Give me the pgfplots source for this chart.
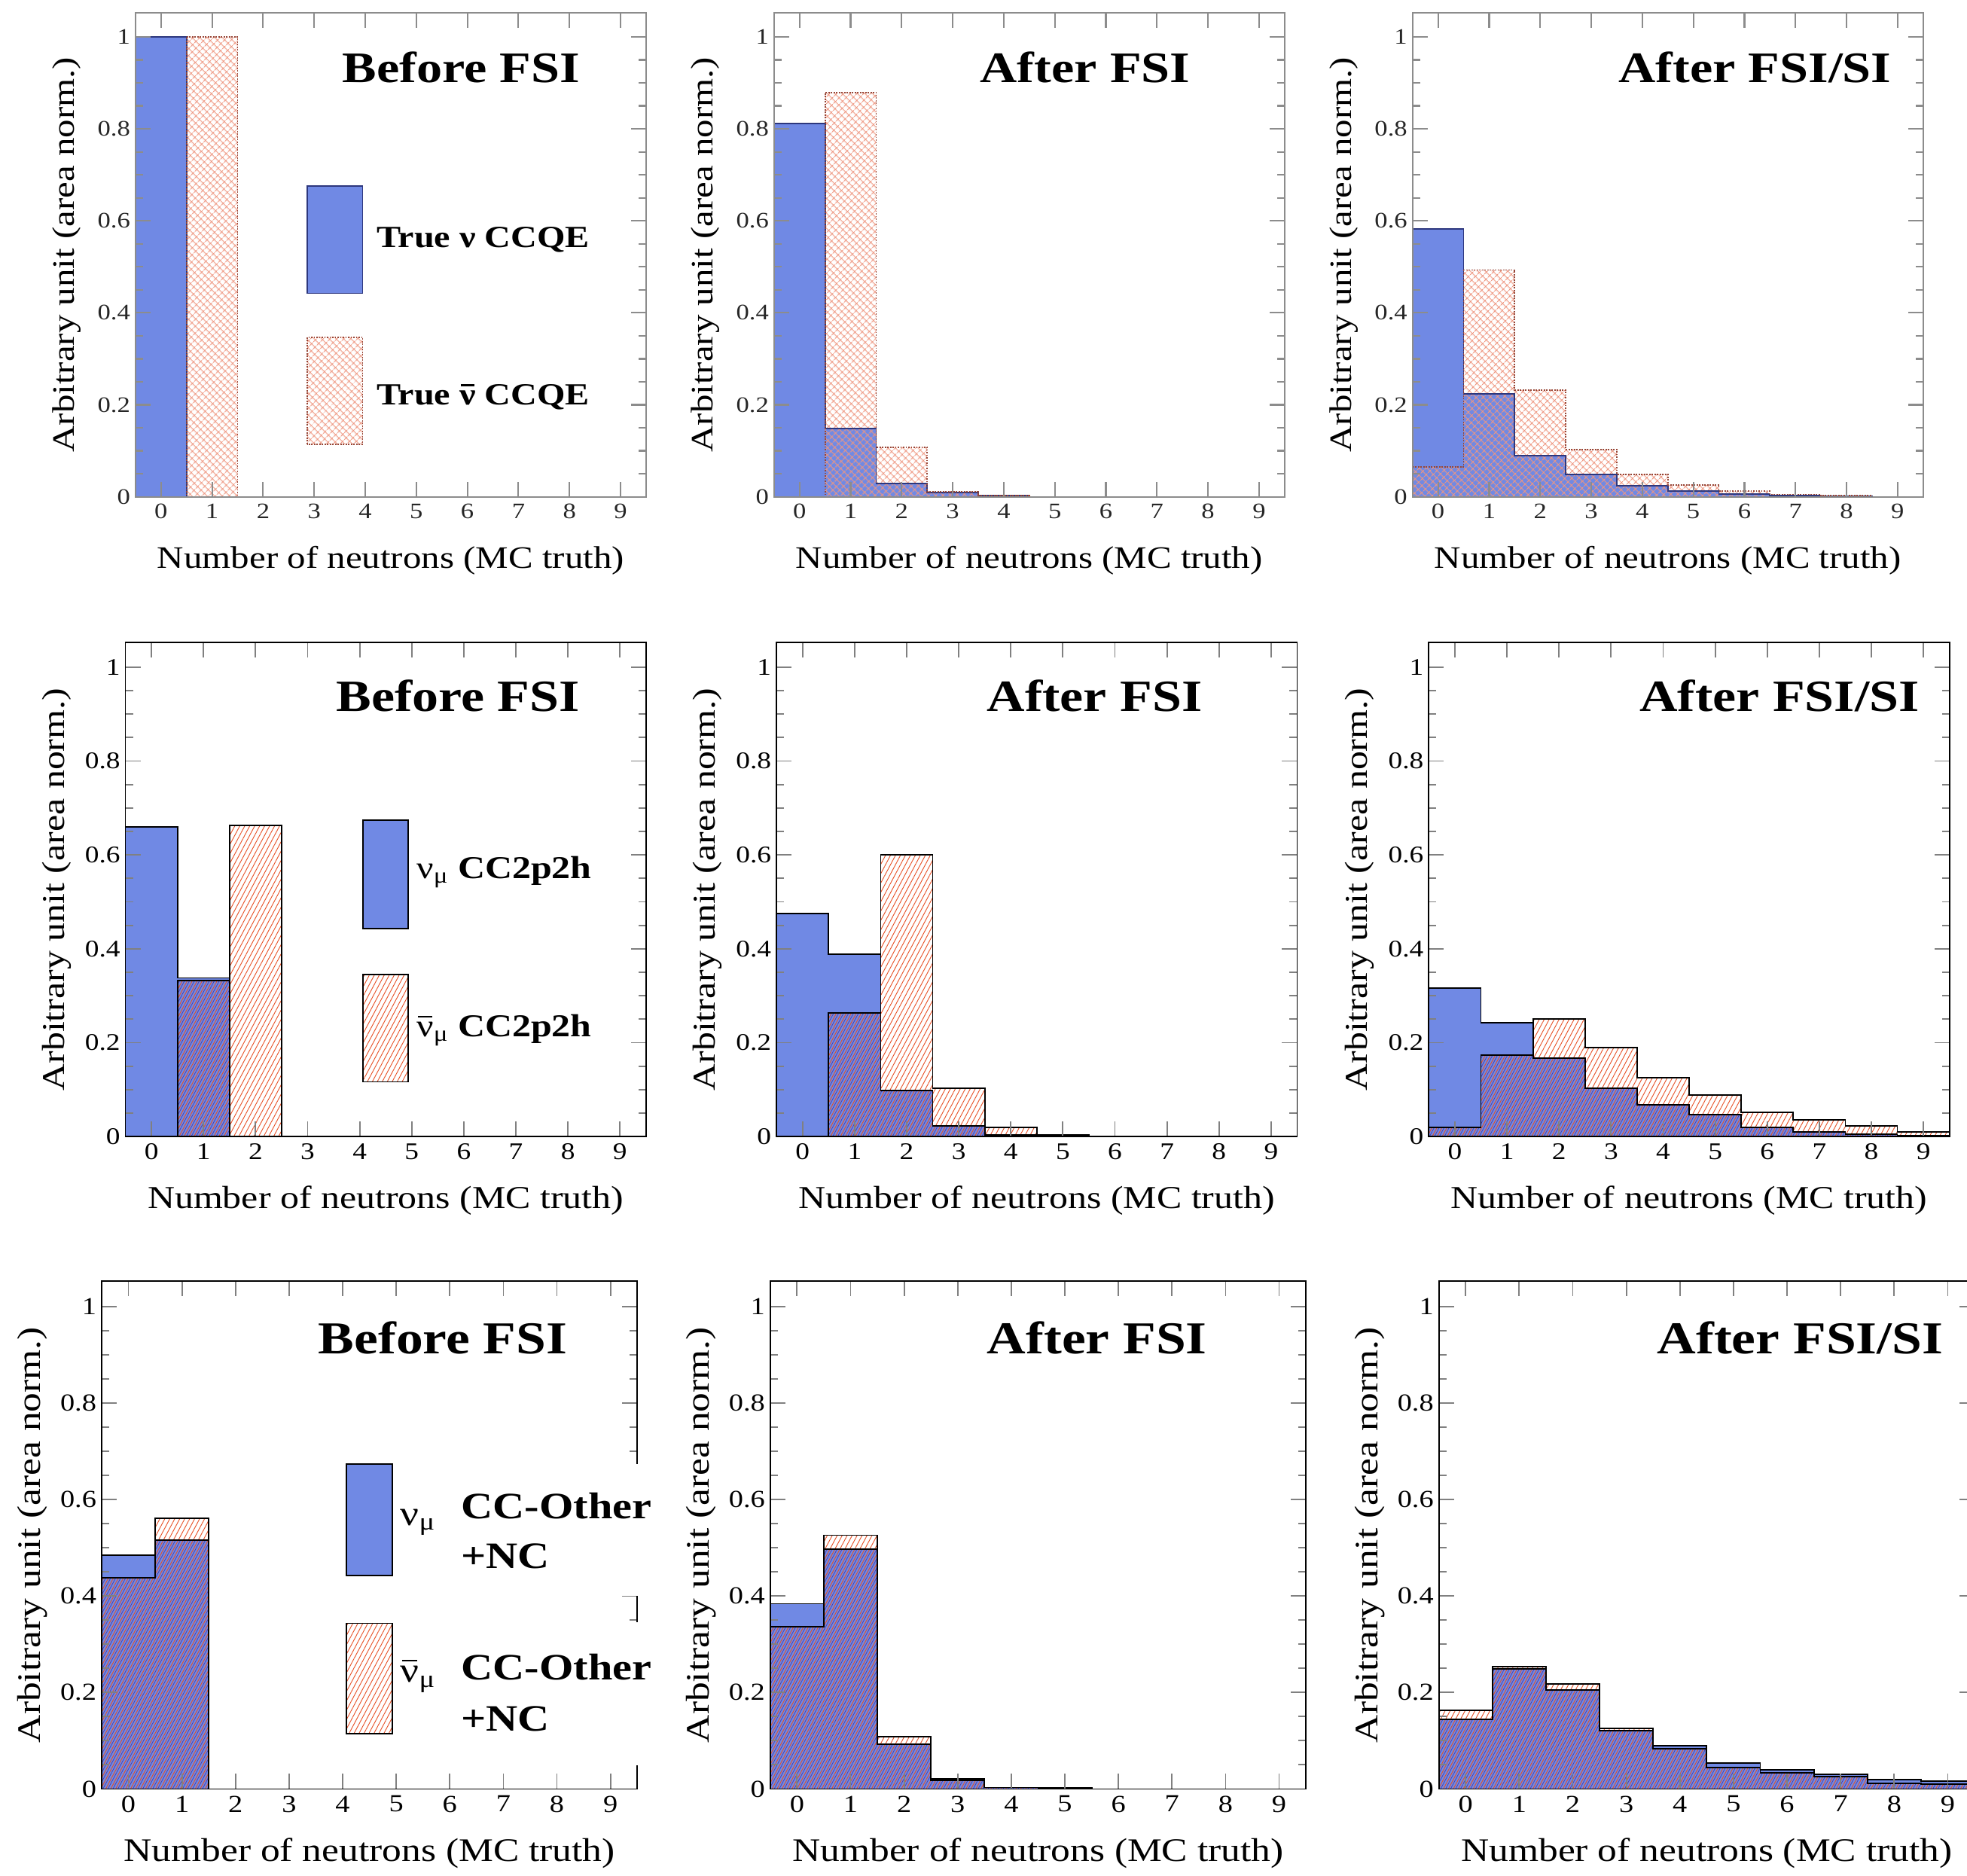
\documentclass[border=0pt]{standalone}
\usepackage{fontspec}
\setmainfont{Liberation Serif}[FakeStretch=1.18]
\usepackage{pgfplots}
\usepackage{pgfplotstable}
\pgfplotsset{compat=1.18}
\usetikzlibrary{patterns.meta}

\definecolor{nublue}{RGB}{112,137,228}
\definecolor{hred}{RGB}{230,80,38}
\definecolor{navyh}{RGB}{80,60,165}
\definecolor{salm}{RGB}{238,150,128}
\definecolor{framegray}{RGB}{140,140,140}
\definecolor{navyline}{RGB}{45,55,125}
\definecolor{redbrown}{RGB}{150,70,55}

\newcommand{\fs}[1]{\fontsize{#1}{#1}\selectfont}
\newcommand{\nubar}{\leavevmode\rlap{\kern0.04em\rule[0.6em]{0.44em}{0.05em}}ν}

% x = left bin edge, b = nu, r = nubar
\pgfplotstableread{
x b r
-0.5 1 0
0.5 0 1
1.5 0 0
2.5 0 0
3.5 0 0
4.5 0 0
5.5 0 0
6.5 0 0
7.5 0 0
8.5 0 0
9.5 0 0
}\tqea
\pgfplotstableread{
x b r
-0.5 0.812 0
0.5 0.148 0.879
1.5 0.029 0.108
2.5 0.009 0.011
3.5 0.002 0.002
4.5 0 0
5.5 0 0
6.5 0 0
7.5 0 0
8.5 0 0
9.5 0 0
}\tqeb
\pgfplotstableread{
x b r
-0.5 0.582 0.065
0.5 0.224 0.493
1.5 0.090 0.232
2.5 0.049 0.103
3.5 0.024 0.049
4.5 0.012 0.026
5.5 0.006 0.012
6.5 0.003 0.005
7.5 0.001 0.002
8.5 0 0
9.5 0 0
}\tqec
\pgfplotstableread{
x b r
-0.5 0.660 0
0.5 0.338 0.332
1.5 0 0.663
2.5 0 0
3.5 0 0
4.5 0 0
5.5 0 0
6.5 0 0
7.5 0 0
8.5 0 0
9.5 0 0
}\tmeca
\pgfplotstableread{
x b r
-0.5 0.475 0
0.5 0.389 0.263
1.5 0.098 0.600
2.5 0.023 0.103
3.5 0.004 0.020
4.5 0.002 0.004
5.5 0 0
6.5 0 0
7.5 0 0
8.5 0 0
9.5 0 0
}\tmecb
\pgfplotstableread{
x b r
-0.5 0.316 0.020
0.5 0.242 0.173
1.5 0.167 0.250
2.5 0.103 0.189
3.5 0.068 0.125
4.5 0.047 0.089
5.5 0.020 0.052
6.5 0.010 0.036
7.5 0.005 0.023
8.5 0.002 0.010
9.5 0.002 0.010
}\tmecc
\pgfplotstableread{
x b r
-0.5 0.484 0.438
0.5 0.516 0.561
1.5 0 0
2.5 0 0
3.5 0 0
4.5 0 0
5.5 0 0
6.5 0 0
7.5 0 0
8.5 0 0
9.5 0 0
}\totha
\pgfplotstableread{
x b r
-0.5 0.384 0.336
0.5 0.497 0.526
1.5 0.093 0.109
2.5 0.018 0.021
3.5 0.003 0.003
4.5 0.002 0.002
5.5 0 0
6.5 0 0
7.5 0 0
8.5 0 0
9.5 0 0
}\tothb
\pgfplotstableread{
x b r
-0.5 0.144 0.163
0.5 0.249 0.254
1.5 0.205 0.217
2.5 0.121 0.126
3.5 0.090 0.083
4.5 0.054 0.045
5.5 0.040 0.034
6.5 0.031 0.026
7.5 0.019 0.012
8.5 0.016 0.010
9.5 0.016 0.010
}\tothc

\tikzset{
  redhatch/.style={pattern={Lines[angle=62,distance=3.5pt,line width=0.55pt]}, pattern color=hred},
  navyhatch/.style={pattern={Lines[angle=62,distance=3.5pt,line width=0.45pt,xshift=1.75pt]}, pattern color=navyh},
  salmhatch/.style={pattern={Hatch[angle=45,distance=4pt,line width=0.7pt]}, pattern color=salm},
}

\pgfplotsset{
  panel/.style={
    scale only axis, axis on top,
    xmin=-0.5, xmax=9.5, ymin=0, ymax=1.053,
    xtick={0,1,2,3,4,5,6,7,8,9}, ytick={0,0.2,0.4,0.6,0.8,1},
    minor y tick num=3,
    tick align=inside,
    major tick length=12pt, minor tick length=6pt,
    /pgf/number format/assume math mode=true,
    xlabel={Number of neutrons (MC truth)},
    ylabel={Arbitrary unit (area norm.)},
    every axis x label/.style={at={(axis description cs:0.5,0)}, yshift=-51pt, anchor=center},
    every axis y label/.style={at={(axis description cs:0,0.5)}, xshift=-55pt, rotate=90, anchor=center},
    axis line style={line width=1.1pt},
    tick style={line width=1.1pt},
    yticklabel style={inner xsep=4pt},
    xticklabel style={yshift=-2pt},
  },
  rowA/.style={panel, width=407pt, height=386pt,
    axis line style={framegray, line width=1.3pt},
    tick style={framegray, line width=1.3pt},
    label style={font=\fs{24.9}},
    tick label style={font=\fs{17.6}, text=black!85}},
  rowB/.style={panel, width=415pt, height=394pt,
    label style={font=\fs{25.4}},
    tick label style={font=\fs{19}}},
  rowC/.style={panel, width=427pt, height=405pt,
    label style={font=\fs{26.2}},
    tick label style={font=\fs{19.5}}},
}

% row 1 style histograms
\newcommand{\histQE}[1]{%
  \addplot[const plot, fill=nublue, draw=none] table[x=x,y=b]{#1} \closedcycle;
  \addplot[const plot, draw=none, salmhatch] table[x=x,y=r]{#1} \closedcycle;
  \addplot[const plot, draw=navyline, line width=1.1pt] table[x=x,y=b]{#1};
  \addplot[const plot, draw=redbrown, line width=1.1pt, densely dotted] table[x=x,y=r]{#1};
}
% rows 2 and 3 histograms
\newcommand{\histMC}[1]{%
  \addplot[const plot, fill=nublue, draw=none] table[x=x,y=b]{#1} \closedcycle;
  \addplot[const plot, draw=none, navyhatch] table[x=x,y expr={min(\thisrow{b},\thisrow{r})}]{#1} \closedcycle;
  \addplot[const plot, draw=none, redhatch] table[x=x,y=r]{#1} \closedcycle;
  \addplot[const plot, draw=black, line width=1.1pt] table[x=x,y=b]{#1};
  \addplot[const plot, draw=black, line width=1.1pt] table[x=x,y=r]{#1};
}

\begin{document}
\begin{tikzpicture}[x=1pt,y=1pt]
\useasboundingbox (0pt,0pt) rectangle (1568pt,1495pt);

% ---------------- Row 1: CCQE ----------------
\begin{axis}[rowA, at={(108pt,1099pt)}, anchor=south west]
\histQE{\tqea}
\end{axis}
\begin{axis}[rowA, at={(617pt,1099pt)}, anchor=south west]
\histQE{\tqeb}
\end{axis}
\begin{axis}[rowA, at={(1126pt,1099pt)}, anchor=south west]
\histQE{\tqec}
\end{axis}

% ---------------- Row 2: 2p2h ----------------
\begin{axis}[rowB, at={(100pt,589pt)}, anchor=south west]
\histMC{\tmeca}
\end{axis}
\begin{axis}[rowB, at={(619pt,589pt)}, anchor=south west]
\histMC{\tmecb}
\end{axis}
\begin{axis}[rowB, at={(1139pt,589pt)}, anchor=south west]
\histMC{\tmecc}
\end{axis}

% ---------------- Row 3: CC-Other + NC ----------------
\begin{axis}[rowC, at={(81pt,69pt)}, anchor=south west]
\histMC{\totha}
\end{axis}
\begin{axis}[rowC, at={(614pt,69pt)}, anchor=south west]
\histMC{\tothb}
\end{axis}
\begin{axis}[rowC, at={(1147pt,69pt)}, anchor=south west]
\histMC{\tothc}
\end{axis}

% ---------------- Titles ----------------
\begin{scope}[every node/.style={inner sep=0pt, anchor=base}]
\node[font=\bfseries\fs{34.7}] at (367.5,1429.5) {Before FSI};
\node[font=\bfseries\fs{34.7}] at (865,1429.5) {After FSI};
\node[font=\bfseries\fs{34.7}] at (1399,1429.5) {After FSI/SI};
\node[font=\bfseries\fs{35.6}] at (365,928) {Before FSI};
\node[font=\bfseries\fs{35.6}] at (872.5,928) {After FSI};
\node[font=\bfseries\fs{35.6}] at (1418.5,928) {After FSI/SI};
\node[font=\bfseries\fs{36.4}] at (353,416) {Before FSI};
\node[font=\bfseries\fs{36.4}] at (874.5,416) {After FSI};
\node[font=\bfseries\fs{36.4}] at (1435,416) {After FSI/SI};
\end{scope}

% ---------------- Legends ----------------
% row 1
\fill[nublue] (245,1261.2) rectangle (289,1346.6);
\draw[navyline, line width=1.1pt] (245,1261.2) rectangle (289,1346.6);
\fill[salmhatch] (245,1141) rectangle (289,1226.2);
\draw[redbrown, line width=1.1pt, densely dotted] (245,1141) rectangle (289,1226.2);
\begin{scope}[every node/.style={inner sep=0pt, anchor=base west}]
\node[font=\bfseries\fs{24.5}] at (300,1298) {True ν CCQE};
\node[font=\bfseries\fs{24.5}] at (300,1172.6) {True \nubar{} CCQE};
\end{scope}

% row 2
\fill[nublue] (289.5,755) rectangle (325.5,841.5);
\draw[black, line width=1.1pt] (289.5,755) rectangle (325.5,841.5);
\fill[redhatch] (289.5,632.6) rectangle (325.5,718.4);
\draw[black, line width=1.1pt] (289.5,632.6) rectangle (325.5,718.4);
\begin{scope}[every node/.style={inner sep=0pt, anchor=base west}]
\node[font=\fs{25.4}] at (332,795) {ν\textsubscript{μ} \textbf{CC2p2h}};
\node[font=\fs{25.4}] at (332,668.5) {\nubar\textsubscript{μ} \textbf{CC2p2h}};
\end{scope}

% row 3
\fill[white] (357,223) rectangle (524,328);
\fill[white] (357,88) rectangle (524,202);
\fill[nublue] (276,239) rectangle (313,328);
\draw[black, line width=1.1pt] (276,239) rectangle (313,328);
\fill[redhatch] (276,113) rectangle (313,201);
\draw[black, line width=1.1pt] (276,113) rectangle (313,201);
\begin{scope}[every node/.style={inner sep=0pt, anchor=base west}]
\node[font=\fs{28}] at (319,279) {ν\textsubscript{μ}};
\node[font=\bfseries\fs{29.7}] at (367.5,284.4) {CC-Other};
\node[font=\bfseries\fs{29.7}] at (367.5,245) {+NC};
\node[font=\fs{28}] at (319,154) {\nubar\textsubscript{μ}};
\node[font=\bfseries\fs{29.7}] at (367.5,156) {CC-Other};
\node[font=\bfseries\fs{29.7}] at (367.5,115) {+NC};
\end{scope}

\end{tikzpicture}
\end{document}
